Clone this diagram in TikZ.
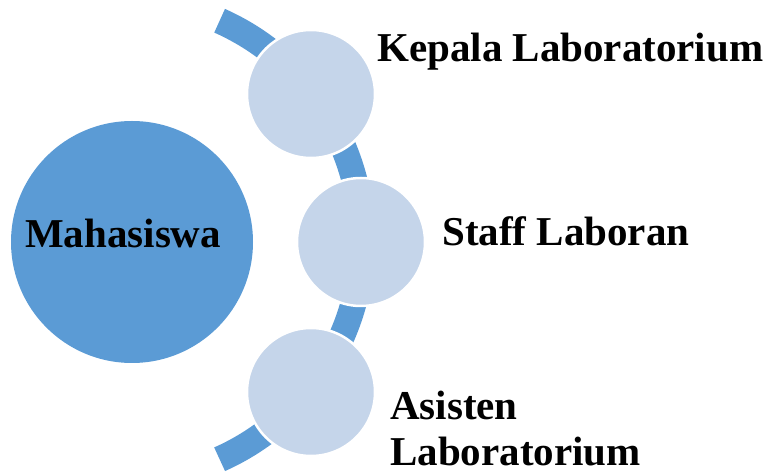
\documentclass[tikz,border=0pt]{standalone}
\usepackage{fontspec}
\setmainfont{Liberation Serif}
\definecolor{darkblue}{HTML}{5B9BD5}
\definecolor{lightblue}{HTML}{C5D5EA}
\begin{document}
\begin{tikzpicture}[x=1pt,y=1pt,
  bigc/.style={circle,fill=darkblue,minimum size=242pt,inner sep=0pt},
  smallc/.style={circle,fill=lightblue,draw=white,line width=2.5pt,minimum size=128pt,inner sep=0pt},
  lbl/.style={font=\fontsize{41}{45}\selectfont\bfseries,inner sep=0pt,anchor=base west,align=left}]
\useasboundingbox (0,0) rectangle (771,474);
\coordinate (arcc) at (122,234);
\draw[darkblue,line width=26pt] (arcc) ++(66:240) arc[start angle=66,end angle=-66,radius=240];
\node[bigc] (mhs) at (132,232) {};
\node[smallc] (kepala) at (311,380) {};
\node[smallc] (staff) at (361,232) {};
\node[smallc] (asisten) at (311,82) {};
\node[lbl] (tmhs) at (25,226) {Mahasiswa};
\node[lbl] (tkepala) at (377,412) {Kepala Laboratorium};
\node[lbl] (tstaff) at (442,228) {Staff Laboran};
\node[lbl] (tasisten) at (390,54) {Asisten};
\node[lbl] (tlab) at (390,9) {Laboratorium};
\end{tikzpicture}
\end{document}
